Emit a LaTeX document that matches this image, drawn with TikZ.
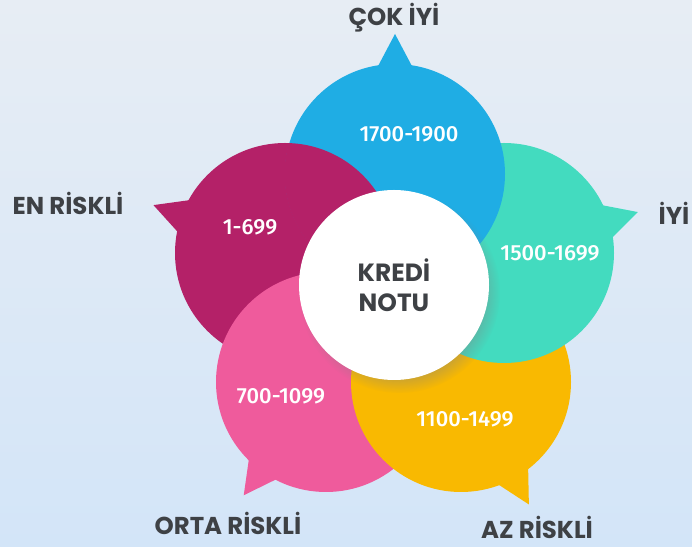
\documentclass[tikz,border=0pt]{standalone}
\usepackage{fontspec}
\setmainfont{Poppins}
\newfontfamily\rangefont{Fira Sans Medium}
\usetikzlibrary{calc, shadows, fadings}
\definecolor{bgtop}{HTML}{E7EDF4}
\definecolor{bgbottom}{HTML}{D3E5F8}
\definecolor{labelgray}{HTML}{3E4145}
\definecolor{cokiyiblue}{HTML}{1FADE4}
\definecolor{iyiteal}{HTML}{43DBBF}
\definecolor{azyellow}{HTML}{F9B901}
\definecolor{ortapink}{HTML}{EF5B9C}
\definecolor{enmagenta}{HTML}{B42168}

% bubble: centre, tail angle, colour
\newcommand{\bubble}[3]{%
  \fill[#3] (#1) circle[radius=110];
  \fill[#3] ($(#1)+(#2-13:100)$) -- ($(#1)+(#2:140)$) -- ($(#1)+(#2+13:100)$) -- cycle;
}

\begin{document}
\begin{tikzpicture}[
  x=1bp, y=1bp,
  grade/.style={font=\fontsize{24.5}{28}\selectfont\bfseries, text=labelgray, anchor=base},
  rangetext/.style={font=\rangefont\fontsize{22}{26}\selectfont, text=white, anchor=base},
  hub/.style={circle, fill=white, minimum size=190bp, inner sep=0pt, align=center,
    font=\fontsize{25}{30}\selectfont\bfseries, text=labelgray,
    circular drop shadow={shadow xshift=5bp, shadow yshift=-7bp, shadow scale=1.06, opacity=0.35}}
]
\shade[top color=bgtop, bottom color=bgbottom] (0,0) rectangle (692,547);
\useasboundingbox (0,0) rectangle (692,547);

\coordinate (blue) at (395,373);
\coordinate (teal) at (504,294);
\coordinate (yellow) at (461,165);
\coordinate (pink) at (326,165);
\coordinate (magenta) at (285,294);

\bubble{magenta}{160}{enmagenta}
\bubble{pink}{-126}{ortapink}
\bubble{yellow}{-61}{azyellow}
\bubble{teal}{17}{iyiteal}
\bubble{blue}{90}{cokiyiblue}
\begin{scope}
  \clip (blue) circle[radius=110.5];
  \fill[enmagenta] (magenta) circle[radius=110];
\end{scope}

\node[rangetext] (r1) at (409,405) {1700-1900};
\node[rangetext] (r2) at (550,286) {1500-1699};
\node[rangetext] (r3) at (465,120) {1100-1499};
\node[rangetext] (r4) at (281,143) {700-1099};
\node[rangetext] (r5) at (250,312) {1-699};

\node[hub] (hub) at (394,262) {KREDİ\\NOTU};

\node[grade] (g1) at (394,521) {ÇOK İYİ};
\node[grade] (g2) at (674,322) {İYİ};
\node[grade] (g3) at (537,8) {AZ RİSKLİ};
\node[grade] (g4) at (228,12) {ORTA RİSKLİ};
\node[grade] (g5) at (68,332) {EN RİSKLİ};
\end{tikzpicture}
\end{document}
